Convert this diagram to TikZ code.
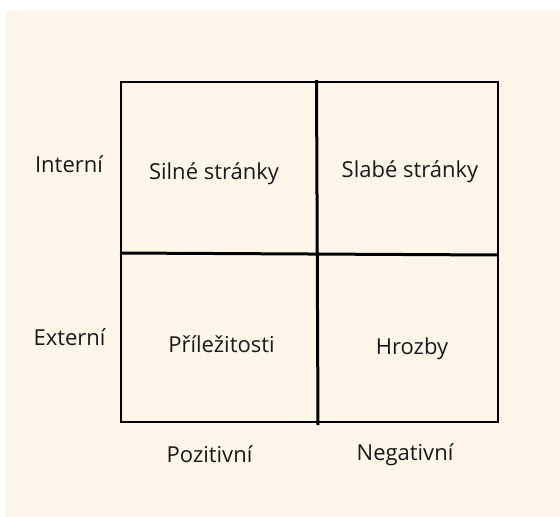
\documentclass[tikz,border=0pt]{standalone}
\usepackage{fontspec}
\setmainfont{Open Sans}
\definecolor{cream}{RGB}{254,246,233}
\definecolor{ink}{RGB}{25,25,25}
\begin{document}
\begin{tikzpicture}[x=1pt,y=-1pt,
  lbl/.style={anchor=base,inner sep=0pt,text=ink,font=\fontsize{22}{25}\selectfont},
  thin/.style={draw=black,line width=2pt},
  thick/.style={draw=black,line width=3pt}]
\useasboundingbox (0,0) rectangle (560,517);
\fill[white] (0,0) rectangle (560,517);
\fill[cream] (5,11) rectangle (560,517);
% grid
\draw[thin] (121,82) rectangle (498,422);
\draw[thick] (316.5,80) -- (318,425);
\draw[thick] (120,253) -- (498,255);
% texts
\node[lbl] (int) at (69,172) {Interní};
\node[lbl] (ext) at (69.5,345) {Externí};
\node[lbl] (s) at (214,179) {Silné stránky};
\node[lbl] (w) at (410,177) {Slabé stránky};
\node[lbl] (o) at (221.5,352) {Příležitosti};
\node[lbl] (t) at (412,354) {Hrozby};
\node[lbl] (pos) at (209.5,462) {Pozitivní};
\node[lbl] (neg) at (405,460) {Negativní};
\end{tikzpicture}
\end{document}
